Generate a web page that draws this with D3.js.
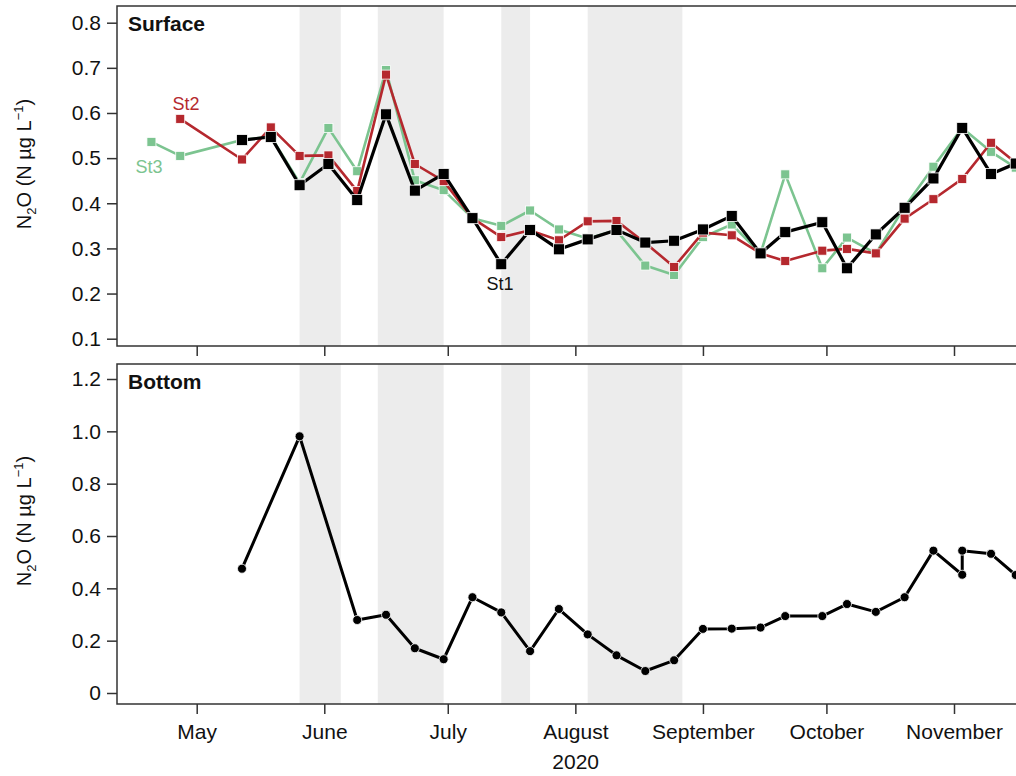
<!DOCTYPE html>
<html>
<head>
<meta charset="utf-8">
<script src="https://cdn.jsdelivr.net/npm/d3@7"></script>
<style>
  body { margin: 0; background: #fff; }
  text { font-family: "Liberation Sans", Arial, sans-serif; }
</style>
</head>
<body>
<svg id="chart" width="1016" height="776"></svg>
<script>
// sampling dates for the surface stations (weekly)
const surfDates = ["2020-04-20","2020-04-27","2020-05-12","2020-05-19","2020-05-26","2020-06-02","2020-06-09",
  "2020-06-16","2020-06-23","2020-06-30","2020-07-07","2020-07-14","2020-07-21","2020-07-28","2020-08-04",
  "2020-08-11","2020-08-18","2020-08-25","2020-09-01","2020-09-08","2020-09-15","2020-09-21","2020-09-30",
  "2020-10-06","2020-10-13","2020-10-20","2020-10-27","2020-11-03","2020-11-10","2020-11-16"];
const st1 = [null, null, 0.540, 0.547, 0.440, 0.487, 0.407, 0.597, 0.428, 0.465, 0.367, 0.265, 0.341, 0.298, 0.320,
  0.341, 0.313, 0.317, 0.342, 0.372, 0.289, 0.336, 0.358, 0.256, 0.331, 0.390, 0.455, 0.567, 0.465, 0.488];
const st2 = [null, 0.587, 0.497, 0.568, 0.505, 0.506, 0.427, 0.685, 0.487, 0.449, 0.367, 0.325, 0.340, 0.318, 0.360,
  0.361, 0.312, 0.259, 0.335, 0.329, 0.289, 0.272, 0.295, 0.299, 0.289, 0.366, 0.409, 0.454, 0.534, 0.490];
const st3 = [0.536, 0.505, 0.540, 0.548, 0.445, 0.567, 0.471, 0.695, 0.451, 0.429, 0.367, 0.350, 0.384, 0.342, 0.322,
  0.340, 0.262, 0.241, 0.325, 0.353, 0.289, 0.464, 0.256, 0.324, 0.289, 0.392, 0.481, 0.567, 0.514, 0.479];

// bottom water (St1)
const botDates = ["2020-05-12","2020-05-26","2020-06-09","2020-06-16","2020-06-23","2020-06-30","2020-07-07",
  "2020-07-14","2020-07-21","2020-07-28","2020-08-04","2020-08-11","2020-08-18","2020-08-25","2020-09-01",
  "2020-09-08","2020-09-15","2020-09-21","2020-09-30","2020-10-06","2020-10-13","2020-10-20","2020-10-27",
  "2020-11-03","2020-11-03","2020-11-10","2020-11-16"];
const botValues = [0.475, 0.981, 0.279, 0.299, 0.171, 0.129, 0.366, 0.308, 0.160, 0.321, 0.224, 0.144, 0.084,
  0.125, 0.245, 0.246, 0.250, 0.294, 0.294, 0.340, 0.310, 0.366, 0.544, 0.452, 0.544, 0.532, 0.451];

// shaded periods
const bands = [["2020-05-26","2020-06-05"],["2020-06-14","2020-06-30"],["2020-07-14","2020-07-21"],["2020-08-04","2020-08-27"]];
const monthTicks = ["2020-05-01","2020-06-01","2020-07-01","2020-08-01","2020-09-01","2020-10-01","2020-11-01"];
const surfTicks = [0.1,0.2,0.3,0.4,0.5,0.6,0.7,0.8];
const botTicks = [0,0.2,0.4,0.6,0.8,1.0,1.2];

const svg = d3.select("#chart");
const parse = d3.utcParse("%Y-%m-%d");

let left = 117, right = 1060;
let x = d3.scaleUtc().domain([parse("2020-05-01"), parse("2020-11-01")]).range([196.7, 954]);

let top1 = 6, bot1 = 346;
let y1 = d3.scaleLinear().domain([0.1, 0.8]).range([338.7, 22.7]);
let top2 = 364, bot2 = 704;
let y2 = d3.scaleLinear().domain([0, 1.2]).range([693, 379]);

svg.append("clipPath").attr("id","clip1").append("rect")
   .attr("x",left).attr("y",top1).attr("width",right-left).attr("height",bot1-top1)
svg.append("clipPath").attr("id","clip2").append("rect")
   .attr("x",left).attr("y",top2).attr("width",right-left).attr("height",bot2-top2)

function panel(top, bottom, y, ticks, fmt, clipId, title, titleY, showMonths) {
  let g = svg.append("g")
  let inner = g.append("g").attr("clip-path","url(#"+clipId+")")
  inner.selectAll("rect.band").data(bands).enter().append("rect")
       .attr("class","band")
       .attr("x", d => x(parse(d[0])))
       .attr("width", d => x(parse(d[1])) - x(parse(d[0])))
       .attr("y", top).attr("height", bottom-top)
       .attr("fill","#ececec")

  // y axis
  let ya = g.append("g").attr("transform","translate("+left+",0)")
            .call(d3.axisLeft(y).tickValues(ticks).tickSize(10).tickPadding(6).tickFormat(fmt))
  ya.select(".domain").remove()
  ya.selectAll("line").attr("stroke","#333").attr("stroke-width",1.5)
  ya.selectAll("text").attr("font-size","21px").attr("fill","#111")
    .style("font-family","'Liberation Sans', Arial, sans-serif")

  // x axis ticks
  let xa = g.append("g").attr("transform","translate(0,"+bottom+")")
            .call(d3.axisBottom(x).tickValues(monthTicks.map(parse)).tickSize(10).tickPadding(10)
                  .tickFormat(showMonths ? d3.utcFormat("%B") : ""))
  xa.select(".domain").remove()
  xa.selectAll("line").attr("stroke","#333").attr("stroke-width",1.5)
  xa.selectAll("text").attr("font-size","21px").attr("fill","#111")
    .style("font-family","'Liberation Sans', Arial, sans-serif")

  // frame (right side runs off the page)
  g.append("path")
   .attr("d","M"+right+","+top+"H"+left+"V"+bottom+"H"+right)
   .attr("fill","none").attr("stroke","#333").attr("stroke-width",1.5)

  g.append("text").attr("x",128).attr("y",top+25)
   .attr("font-size","21px").attr("font-weight","bold").attr("fill","#111")
   .text(title)

  // y title
  let yt = g.append("text")
     .attr("transform","translate(31,"+titleY+") rotate(-90)")
     .attr("text-anchor","middle").attr("font-size","20px").attr("fill","#111")
  yt.append("tspan").text("N")
  yt.append("tspan").attr("font-size","13px").attr("dy","5").text("2")
  yt.append("tspan").attr("dy","-5").text("O (N µg L")
  yt.append("tspan").attr("font-size","13px").attr("dy","-8").text("−1")
  yt.append("tspan").attr("dy","8").text(")")

  return {g: g, inner: inner}
}

let fmt1 = d3.format(".1f")
let fmt2 = d => d === 0 ? "0" : d.toFixed(1)
let p1 = panel(top1, bot1, y1, surfTicks, fmt1, "clip1", "Surface", 164, false)
let p2 = panel(top2, bot2, y2, botTicks, fmt2, "clip2", "Bottom", 521, true)

// surface series
let series = [
  {name:"St3", values: st3, color:"#7cc490", size: 9, width: 2.6},
  {name:"St2", values: st2, color:"#b5282e", size: 9, width: 2.6},
  {name:"St1", values: st1, color:"#000000", size: 11, width: 3.2}
]
let line1 = d3.line().defined(d => d.v != null).x(d => x(d.date)).y(d => y1(d.v))

series.forEach(function(s) {
  let pts = surfDates.map((d,i) => ({date: parse(d), v: s.values[i]}))
  p1.inner.append("path").datum(pts)
     .attr("d", line1).attr("fill","none")
     .attr("stroke", s.color).attr("stroke-width", s.width).attr("stroke-linejoin","round")
  p1.inner.selectAll("rect.pt"+s.name).data(pts.filter(d => d.v != null)).enter().append("rect")
     .attr("x", d => x(d.date) - s.size/2)
     .attr("y", d => y1(d.v) - s.size/2)
     .attr("width", s.size).attr("height", s.size)
     .attr("fill", s.color).attr("stroke","#fff").attr("stroke-width",0.8)
})

// series labels
svg.append("text").attr("x",186).attr("y",110).attr("text-anchor","middle")
   .attr("font-size","18px").attr("fill","#b5282e").text("St2")
svg.append("text").attr("x",149).attr("y",173).attr("text-anchor","middle")
   .attr("font-size","18px").attr("fill","#7cc490").text("St3")
svg.append("text").attr("x",500).attr("y",290).attr("text-anchor","middle")
   .attr("font-size","18px").attr("fill","#111").text("St1")

// bottom series
let botPts = botDates.map((d,i) => ({date: parse(d), v: botValues[i]}))
let line2 = d3.line().x(d => x(d.date)).y(d => y2(d.v))
p2.inner.append("path").datum(botPts)
   .attr("d", line2).attr("fill","none")
   .attr("stroke","#000").attr("stroke-width",3).attr("stroke-linejoin","round")
p2.inner.selectAll("circle").data(botPts).enter().append("circle")
   .attr("cx", d => x(d.date)).attr("cy", d => y2(d.v)).attr("r",4.5)
   .attr("fill","#000").attr("stroke","#fff").attr("stroke-width",0.8)

// year label
svg.append("text").attr("x",575.7).attr("y",769).attr("text-anchor","middle")
   .attr("font-size","21px").attr("fill","#111").text("2020")
</script>
</body>
</html>
